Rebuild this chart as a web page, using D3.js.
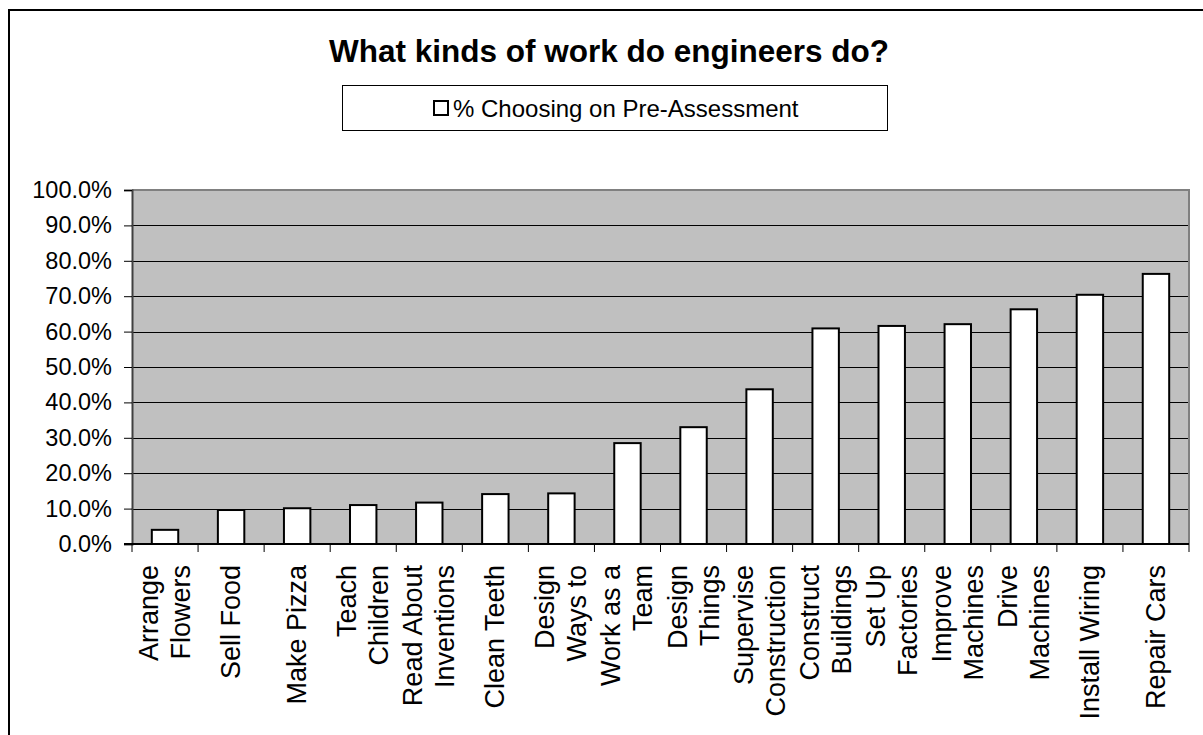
<!DOCTYPE html>
<html>
<head>
<meta charset="utf-8">
<script src="https://cdn.jsdelivr.net/npm/d3@7"></script>
<style>
  html, body { margin: 0; padding: 0; background: #ffffff; }
  svg { display: block; font-family: "Liberation Sans", Arial, sans-serif; }
</style>
</head>
<body>
<svg id="chart" width="1203" height="735"></svg>
<script>
// Activities offered on the survey, in plotted order
const categories = [
  "Arrange Flowers", "Sell Food", "Make Pizza", "Teach Children",
  "Read About Inventions", "Clean Teeth", "Design Ways to", "Work as a Team",
  "Design Things", "Supervise Construction", "Construct Buildings",
  "Set Up Factories", "Improve Machines", "Drive Machines",
  "Install Wiring", "Repair Cars"
];
// How each category label wraps onto lines
const labelLines = [
  ["Arrange", "Flowers"], ["Sell Food"], ["Make Pizza"], ["Teach", "Children"],
  ["Read About", "Inventions"], ["Clean Teeth"], ["Design", "Ways to"], ["Work as a", "Team"],
  ["Design", "Things"], ["Supervise", "Construction"], ["Construct", "Buildings"],
  ["Set Up", "Factories"], ["Improve", "Machines"], ["Drive", "Machines"],
  ["Install Wiring"], ["Repair Cars"]
];
// Share of students choosing each activity (fraction)
const preAssessment = [
  0.040, 0.096, 0.101, 0.110, 0.117, 0.141, 0.143, 0.285,
  0.330, 0.437, 0.609, 0.616, 0.621, 0.663, 0.704, 0.763
];
const yTicks = [0, 0.1, 0.2, 0.3, 0.4, 0.5, 0.6, 0.7, 0.8, 0.9, 1.0];
const titleText = "What kinds of work do engineers do?";
const seriesName = "% Choosing on Pre-Assessment";

const svg = d3.select("#chart");
const plot = { left: 132, right: 1189, top: 190, bottom: 544 };

// Outer chart frame (runs past the right and bottom edges of the page)
svg.append("rect")
  .attr("x", 9).attr("y", 10).attr("width", 1220).attr("height", 760)
  .attr("fill", "#ffffff").attr("stroke", "#000000").attr("stroke-width", 2);

// Title
svg.append("text")
  .attr("x", 609).attr("y", 62)
  .attr("text-anchor", "middle")
  .attr("font-size", 31.5).attr("font-weight", "bold")
  .attr("fill", "#000")
  .text(titleText);

// Legend
const legend = svg.append("g");
legend.append("rect")
  .attr("x", 342.5).attr("y", 85.5).attr("width", 545).attr("height", 45)
  .attr("fill", "#fff").attr("stroke", "#000").attr("stroke-width", 1);
legend.append("rect")
  .attr("x", 434).attr("y", 101).attr("width", 14).attr("height", 14)
  .attr("fill", "#fff").attr("stroke", "#000").attr("stroke-width", 2);
legend.append("text")
  .attr("x", 453).attr("y", 117)
  .attr("font-size", 24).attr("fill", "#000")
  .text(seriesName);

// Scales
const x = d3.scaleBand().domain(categories).range([plot.left, plot.right]).padding(0);
const y = d3.scaleLinear().domain([0, 1]).range([plot.bottom, plot.top]);

// Plot background
svg.append("rect")
  .attr("x", plot.left).attr("y", plot.top)
  .attr("width", plot.right - plot.left).attr("height", plot.bottom - plot.top)
  .attr("fill", "#c0c0c0");

// Horizontal gridlines
svg.append("g")
  .selectAll("line")
  .data(yTicks.filter(t => t > 0 && t < 1))
  .join("line")
  .attr("x1", plot.left).attr("x2", plot.right)
  .attr("y1", d => Math.round(y(d)) + 0.5).attr("y2", d => Math.round(y(d)) + 0.5)
  .attr("stroke", "#000").attr("stroke-width", 1);

// Top and right border of the plot area
svg.append("path")
  .attr("d", `M${plot.left},${plot.top} H${plot.right} V${plot.bottom}`)
  .attr("fill", "none").attr("stroke", "#808080").attr("stroke-width", 2);

// Bars (gap width 150%)
const barW = x.bandwidth() / 2.5;
svg.append("g")
  .selectAll("rect")
  .data(preAssessment)
  .join("rect")
  .attr("x", (d, i) => x(categories[i]) + (x.bandwidth() - barW) / 2)
  .attr("y", d => y(d))
  .attr("width", barW)
  .attr("height", d => y(0) - y(d))
  .attr("fill", "#ffffff")
  .attr("stroke", "#000").attr("stroke-width", 2);

// Y axis
const yAxis = d3.axisLeft(y)
  .tickValues(yTicks)
  .tickFormat(d3.format(".1%"))
  .tickSize(8).tickPadding(12);
const gy = svg.append("g")
  .attr("transform", `translate(${plot.left},0)`)
  .call(yAxis);
gy.select(".domain").attr("stroke", "#404040").attr("stroke-width", 2);
gy.selectAll(".tick line").attr("stroke", "#000");
gy.selectAll(".tick text")
  .attr("font-size", 23.5).attr("font-family", "Liberation Sans, Arial, sans-serif")
  .attr("fill", "#000");

// X axis: ticks at category boundaries
const gx = svg.append("g");
gx.append("line")
  .attr("x1", plot.left - 8).attr("x2", plot.right)
  .attr("y1", plot.bottom).attr("y2", plot.bottom)
  .attr("stroke", "#000").attr("stroke-width", 2);
const boundaries = categories.map(c => x(c)).concat([plot.right]);
gx.selectAll("line.tick")
  .data(boundaries)
  .join("line")
  .attr("class", "tick")
  .attr("x1", d => d).attr("x2", d => d)
  .attr("y1", plot.bottom).attr("y2", plot.bottom + 8)
  .attr("stroke", "#000").attr("stroke-width", 1);

// Rotated category labels
const lineGap = 32;
const labels = gx.selectAll("g.label")
  .data(categories)
  .join("g")
  .attr("class", "label")
  .attr("transform", d => `translate(${x(d) + x.bandwidth() / 2},565) rotate(-90)`);
labels.each(function(d, i) {
  const lines = labelLines[i];
  const n = lines.length;
  d3.select(this).selectAll("text")
    .data(lines)
    .join("text")
    .attr("x", 0)
    .attr("y", (t, k) => (k - (n - 1) / 2) * lineGap + 9)
    .attr("text-anchor", "end")
    .attr("font-size", 27)
    .attr("fill", "#000")
    .text(t => t);
});
</script>
</body>
</html>
